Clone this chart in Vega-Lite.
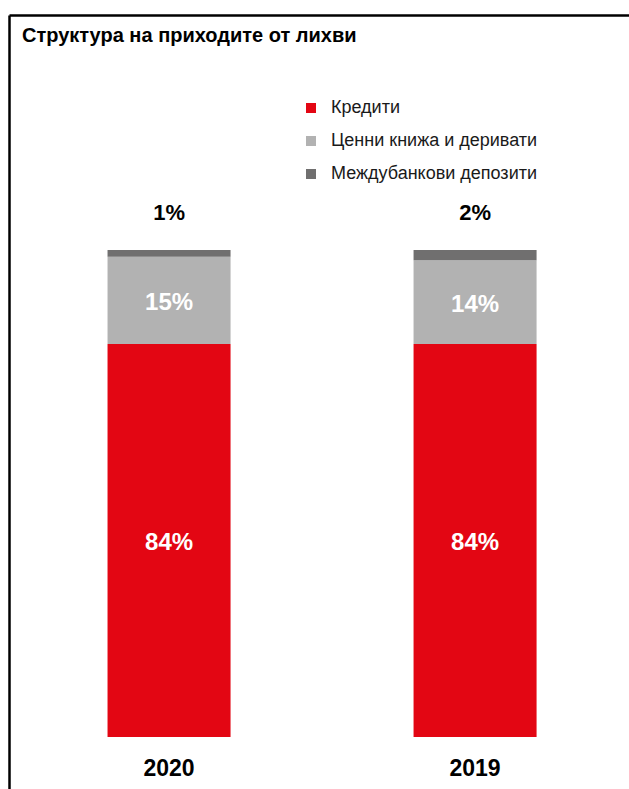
{
  "$schema": "https://vega.github.io/schema/vega-lite/v6.json",
  "width": 620,
  "height": 774,
  "autosize": {"type": "none"},
  "padding": {"left": 9, "top": 15, "right": 0, "bottom": 0},
  "background": "white",
  "title": {
    "text": "Структура на приходите от лихви",
    "anchor": "start",
    "frame": "group",
    "font": "Liberation Sans",
    "fontSize": 20,
    "fontWeight": "bold",
    "color": "#000000",
    "baseline": "alphabetic",
    "offset": -27,
    "dy": 20,
    "dx": 13
  },
  "data": {
    "values": [
      {"year": "2020", "cat": "Кредити", "ord": 1, "v": 80.7, "label": "84%"},
      {"year": "2020", "cat": "Ценни книжа и деривати", "ord": 2, "v": 17.9, "label": "15%"},
      {"year": "2020", "cat": "Междубанкови депозити", "ord": 3, "v": 1.4, "label": "1%"},
      {"year": "2019", "cat": "Кредити", "ord": 1, "v": 80.7, "label": "84%"},
      {"year": "2019", "cat": "Ценни книжа и деривати", "ord": 2, "v": 17.2, "label": "14%"},
      {"year": "2019", "cat": "Междубанкови депозити", "ord": 3, "v": 2.1, "label": "2%"}
    ]
  },
  "encoding": {
    "x": {
      "field": "year",
      "type": "nominal",
      "sort": ["2020", "2019"],
      "scale": {"paddingInner": 0.598, "paddingOuter": 0.312, "align": 0.516}
    },
    "y": {
      "field": "v",
      "type": "quantitative",
      "stack": "zero",
      "scale": {"domain": [-10.68, 148.25], "nice": false, "zero": false},
      "axis": {"orient": "left", "labels": false, "ticks": false, "domain": true, "domainColor": "#000000", "domainWidth": 2.5, "title": null, "grid": false}
    },
    "order": {"field": "ord", "type": "quantitative"}
  },
  "layer": [
    {
      "mark": {"type": "bar"},
      "encoding": {
        "x": {
          "field": "year",
          "type": "nominal",
          "sort": ["2020", "2019"],
          "axis": {"orient": "top", "labels": false, "ticks": false, "domain": true, "domainColor": "#000000", "domainWidth": 2.5, "title": null, "grid": false}
        },
        "color": {
          "field": "cat",
          "type": "nominal",
          "scale": {
            "domain": ["Кредити", "Ценни книжа и деривати", "Междубанкови депозити"],
            "range": ["#E30613", "#B2B2B2", "#706F6F"]
          },
          "legend": {
            "orient": "none",
            "legendX": 293,
            "legendY": 84,
            "title": null,
            "padding": 0,
            "symbolType": "square",
            "symbolSize": 100,
            "symbolStrokeWidth": 0,
            "labelFont": "Liberation Sans",
            "labelFontSize": 18,
            "labelColor": "#1a1a1a",
            "labelOffset": 11,
            "labelLimit": 400,
            "rowPadding": 15
          }
        }
      }
    },
    {
      "mark": {"type": "text", "color": "white", "font": "Liberation Sans", "fontSize": 24, "fontWeight": "bold", "baseline": "middle", "dy": 3},
      "encoding": {
        "x": {
          "field": "year",
          "type": "nominal",
          "sort": ["2020", "2019"],
          "axis": {"orient": "bottom", "offset": -52, "domain": false, "ticks": false, "labelPadding": 20, "labelFont": "Liberation Sans", "labelFontSize": 23, "labelFontWeight": "bold", "labelColor": "#000000", "labelAngle": 0, "title": null, "grid": false}
        },
        "y": {"field": "v", "type": "quantitative", "stack": "zero", "bandPosition": 0.5},
        "detail": {"field": "cat"},
        "text": {"condition": {"test": "datum.ord < 3", "field": "label"}, "value": ""}
      }
    },
    {
      "mark": {"type": "text", "color": "#000000", "font": "Liberation Sans", "fontSize": 22, "fontWeight": "bold", "baseline": "middle", "dy": -37},
      "encoding": {
        "x": {"field": "year", "type": "nominal", "sort": ["2020", "2019"], "axis": null},
        "detail": {"field": "cat"},
        "text": {"condition": {"test": "datum.ord == 3", "field": "label"}, "value": ""}
      }
    }
  ],
  "resolve": {"axis": {"x": "independent"}},
  "config": {"view": {"stroke": null}}
}
